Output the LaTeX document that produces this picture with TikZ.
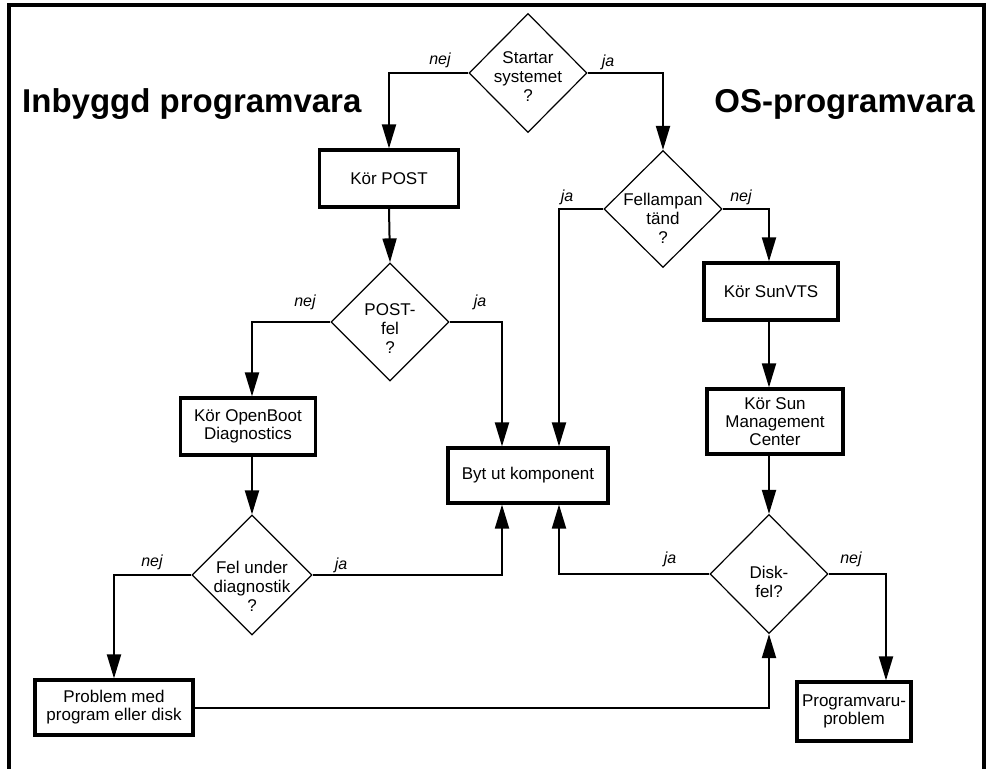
\documentclass[tikz,border=0pt]{standalone}
\usepackage{fontspec}
\setmainfont{Liberation Sans}
\usetikzlibrary{shapes.geometric,arrows.meta,calc}
\begin{document}
\begin{tikzpicture}[x=1pt,y=-1pt,
  box/.style={draw,line width=3.2pt,rectangle,inner sep=0pt,align=center,
    font=\fontsize{17}{18}\selectfont},
  dia/.style={draw,line width=1.2pt,diamond,inner sep=0pt},
  dtxt/.style={align=center,inner sep=0pt,font=\fontsize{17}{19}\selectfont},
  lbl/.style={font=\fontsize{16}{18}\selectfont\itshape,inner sep=0pt},
  ttl/.style={font=\fontsize{33}{38}\selectfont\bfseries,inner sep=0pt},
  arr/.style={line width=2pt,-{Triangle[length=24pt,width=14pt]}}]
\useasboundingbox (0,0) rectangle (989,769);
\draw[line width=3.5pt] (9,769) -- (9,5) -- (984,5) -- (984,769);

% titles
\node[ttl,anchor=base west] (t1) at (22,112) {Inbyggd programvara};
\node[ttl,anchor=base east] (t2) at (975,112) {OS-programvara};

% diamonds
\node[dia,minimum width=118pt,minimum height=119pt] (d1) at (528,73) {};
\node[dtxt] (d1t) at (528,77) {Startar\\systemet\\?};
\node[dia,minimum width=118pt,minimum height=118pt] (pf) at (390,322) {};
\node[dtxt] (pft) at (390,329) {POST-\\fel\\?};
\node[dia,minimum width=118pt,minimum height=117pt] (fel) at (663,209) {};
\node[dtxt] (felt) at (663,218) {Fellampan\\tänd\\?};
\node[dia,minimum width=120pt,minimum height=120pt] (fu) at (252,575) {};
\node[dtxt] (fut) at (252,586) {Fel under\\diagnostik\\?};
\node[dia,minimum width=118pt,minimum height=119pt] (disk) at (769,574) {};
\node[dtxt] (diskt) at (769,582) {Disk-\\fel?};

% boxes
\node[box,minimum width=139pt,minimum height=57pt] (post) at (389,178.5) {Kör POST};
\node[box,minimum width=135pt,minimum height=57pt] (ob) at (248,426.5) {Kör OpenBoot\\Diagnostics};
\node[box,minimum width=160pt,minimum height=55pt] (byt) at (528,475.5) {Byt ut komponent};
\node[box,minimum width=134pt,minimum height=57pt] (vts) at (771,291.5) {Kör SunVTS};
\node[box,minimum width=136pt,minimum height=65pt] (smc) at (775,421.5) {Kör Sun\\Management\\Center};
\node[box,minimum width=158pt,minimum height=55pt] (prob) at (114,707.5) {Problem med\\program eller disk};
\node[box,minimum width=114pt,minimum height=59pt] (prog) at (854,711.5) {Programvaru-\\problem};

% helper coordinates
\coordinate (bL) at (502,0);
\coordinate (bR) at (559,0);
\coordinate (pR) at (886,0);

% connectors
\draw[arr] (d1.west) -| (post.north);
\draw[arr] (d1.east) -| (fel.north);
\draw[arr] (post.south) -- (pf.north);
\draw[arr] (pf.west) -| (ob.north -| fu.north);
\draw[arr] (pf.east) -| (bL |- byt.north);
\draw[arr] (ob.south -| fu.north) -- (fu.north);
\draw[arr] (fel.west) -| (bR |- byt.north);
\draw[arr] (fel.east) -| (vts.north -| disk.north);
\draw[arr] (vts.south -| disk.north) -- (smc.north -| disk.north);
\draw[arr] (smc.south -| disk.north) -- (disk.north);
\draw[arr] (fu.west) -| (prob.north);
\draw[arr] (fu.east) -| (bL |- byt.south);
\draw[arr] (disk.west) -| (bR |- byt.south);
\draw[arr] (disk.east) -| (pR |- prog.north);
\draw[arr] (prob.east) -| (disk.south);

% labels
\node[lbl] (l1) at (440,60) {nej};
\node[lbl] (l2) at (608,62) {ja};
\node[lbl] (l3) at (305,302) {nej};
\node[lbl] (l4) at (480,302) {ja};
\node[lbl] (l5) at (567,197) {ja};
\node[lbl] (l6) at (741,197) {nej};
\node[lbl] (l7) at (152,562) {nej};
\node[lbl] (l8) at (341,565) {ja};
\node[lbl] (l9) at (670,559) {ja};
\node[lbl] (l10) at (851,559) {nej};
\end{tikzpicture}
\end{document}
